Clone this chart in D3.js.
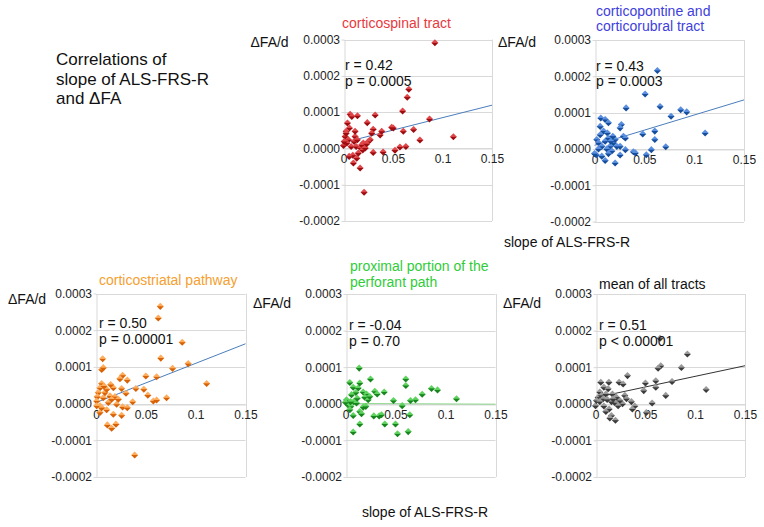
<!DOCTYPE html>
<html>
<head>
<meta charset="utf-8">
<script src="https://cdn.jsdelivr.net/npm/d3@7"></script>
<style>
  html, body { margin: 0; padding: 0; background: #fff; }
  svg { display: block; font-family: "Liberation Sans", Arial, sans-serif; }
</style>
</head>
<body>
<div id="viz_container"></div>
<script>
// points: [slope of ALS-FRS-R, dFA/d]
const corticospinal = [
  [0.0923, 0.000291], [0.066, 0.000163], [0.0644, 0.000141], [0.0597, 0.000103], [0.0869, 0.000081],
  [0.111, 0.000032], [0.0708, 0.000052], [0.0772, 0.000023], [0.0604, 0.000047], [0.0503, 0.000056],
  [0.0487, 0.000058], [0.063, 0.000005], [0.057, 0.000004], [0.052, -0.000005], [0.040, -0.00001],
  [0.032, 0.000092], [0.030, 0.000053], [0.0285, 0.000042], [0.037, 0.000037], [0.0386, 0.000047],
  [0.030, -0.000011], [0.024, 0.000071], [0.027, 0.000024], [0.025, 0.000019], [0.020, 0.000015],
  [0.0208, -0.000121], [0.0168, -0.000054], [0.0141, 0.00009], [0.0067, 0.000094], [0.0084, 0.000088],
  [0.004, 0.00007], [0.006, 0.000056], [0.0027, 0.000047], [0.0017, 0.000033], [0.005, 0.000024],
  [0.0, 0.000008], [0.0034, 0.000015], [0.0077, 0.000005], [0.0117, 0.000033], [0.0128, 0.000005],
  [0.0094, -0.000019], [0.010, -0.00004], [0.0134, -0.000027], [0.015, -0.000013], [0.0174, 0.000001],
  [0.0185, 0.00001], [0.0195, -0.000004], [0.0107, 0.000019], [0.0007, 0.000019], [0.0027, 0.000042],
  [0.0057, -0.000022], [0.022, 0.000001], [0.0235, 0.000013], [0.014, 0.000024], [0.0117, 0.000047]
];
const corticopontine = [
  [0.0631, 0.000216], [0.0508, 0.000151], [0.0658, 0.000117], [0.0317, 0.000113], [0.0865, 0.000108],
  [0.0925, 0.000102], [0.0768, 0.00009], [0.111, 0.000044], [0.0605, 0.000049], [0.0484, 0.000041],
  [0.0605, 0.000026], [0.0715, 0.000006], [0.057, -0.000002], [0.052, -0.000016], [0.039, -0.000008],
  [0.041, -0.000011], [0.027, 0.000067], [0.0257, 0.000058], [0.029, 0.000035], [0.031, 0.00003],
  [0.0257, 0.000007], [0.031, -0.000002], [0.0257, -0.000017], [0.0207, -0.000039], [0.0107, -0.000032],
  [0.0073, -0.00002], [0.0017, -0.000016], [0.0063, 0.000085], [0.0107, 0.000081], [0.014, 0.000072],
  [0.0057, 0.000062], [0.009, 0.000049], [0.013, 0.000044], [0.0023, 0.000026], [0.004, 0.000017],
  [0.0073, 0.000007], [0.0107, 0.000021], [0.014, 0.00003], [0.0157, 0.000007], [0.0174, -0.000006],
  [0.019, 0.000017], [0.0207, 0.000026], [0.0224, 0.000007], [0.0124, 0.0], [0.014, -0.000013],
  [0.004, 0.0], [0.0057, 0.000039], [0.0164, 0.000021], [0.0184, 0.000035], [0.0, -0.000013]
];
const corticostriatal = [
  [0.0645, 0.000265], [0.0625, 0.000233], [0.0865, 0.000167], [0.065, 0.000124], [0.0925, 0.000109],
  [0.0768, 0.000096], [0.0608, 0.000073], [0.050, 0.000075], [0.111, 0.000055], [0.048, 0.000039],
  [0.052, 0.000023], [0.0575, 0.000007], [0.0608, 0.00001], [0.0708, 0.000016], [0.040, 0.000041],
  [0.0368, 0.000005], [0.0388, -0.00014], [0.0314, 0.000064], [0.0267, 0.000077], [0.024, 0.000068],
  [0.0257, 0.000041], [0.0301, 0.000028], [0.0267, -0.000009], [0.0257, -0.000032], [0.0314, -0.000011],
  [0.020, -0.000056], [0.0157, -0.000067], [0.0114, -0.000058], [0.0174, -0.000029], [0.0207, -0.000002],
  [0.019, 0.000019], [0.0174, 0.000043], [0.0147, 0.000052], [0.0067, 0.000122], [0.0057, 0.000093],
  [0.0073, 0.000098], [0.0057, 0.000055], [0.004, 0.000043], [0.0023, 0.00003], [0.0013, 0.000019],
  [0.0007, 0.000007], [0.0007, -0.000006], [0.004, -0.000006], [0.0073, 0.000016], [0.009, 0.00003],
  [0.0107, 0.000039], [0.008, 0.000048], [0.0124, 0.000003], [0.0107, -0.000017], [0.014, 0.000021],
  [0.0157, 0.000012], [0.0224, 0.000012], [0.004, -0.000024], [0.0057, -0.000011]
];
const perforant = [
  [0.0137, 0.0000975], [0.025, 0.000068], [0.0603, 0.000068], [0.0603, 0.00005], [0.086, 0.000042],
  [0.092, 0.000038], [0.111, 0.000014], [0.0767, 0.000026], [0.070, 0.000011], [0.065, 0.000009],
  [0.048, 0.000009], [0.0567, -0.000005], [0.0643, -0.00003], [0.050, -0.000055], [0.052, -0.000082],
  [0.0627, -0.000076], [0.0393, -0.000055], [0.0387, 0.000032], [0.0293, 0.000034], [0.0317, 0.000027],
  [0.0283, -0.000033], [0.0337, -0.000033], [0.036, -0.00003], [0.0143, -0.000055], [0.0077, -0.000077],
  [0.0043, 0.000058], [0.0077, 0.000045], [0.0127, 0.000043], [0.0143, 0.000057], [0.0103, 0.000031],
  [0.006, 0.000025], [0.0177, 0.000032], [0.021, 0.000027], [0.0193, 0.000018], [0.001, 0.000011],
  [0.0027, -0.000003], [0.0053, -0.000007], [0.0083, 0.000006], [0.011, 0.000002], [0.0077, -0.000032],
  [0.0143, -0.000021], [0.016, -0.000027], [0.0177, -0.000009], [0.0203, -0.000007], [0.0227, 0.000011],
  [0.0243, 0.00002], [0.0043, -0.000016], [0.0117, 0.000015], [0.0, 0.000004], [0.005, 0.000006]
];
const allTracts = [
  [0.0648, 0.000179], [0.0922, 0.000136], [0.0655, 0.000104], [0.0628, 0.000097], [0.0862, 0.000099],
  [0.0321, 0.000077], [0.0768, 0.000061], [0.0605, 0.000063], [0.0605, 0.000045], [0.0501, 0.000057],
  [0.0484, 0.000036], [0.111, 0.000039], [0.0705, 0.000023], [0.0568, 0.000002], [0.051, -0.000024],
  [0.036, 0.000006], [0.0394, -0.000006], [0.037, -0.000014], [0.0237, 0.000059], [0.0277, 0.000054],
  [0.0294, 0.000023], [0.0311, 0.000014], [0.0271, 0.0], [0.0244, 0.000009], [0.021, 0.000018],
  [0.0194, 0.000003], [0.016, 0.000006], [0.020, -0.000045], [0.016, -0.000032], [0.0137, -0.000014],
  [0.0104, -0.000021], [0.0084, -0.000006], [0.0, -0.000005], [0.0053, 0.000059], [0.0084, 0.000045],
  [0.0134, 0.000059], [0.0127, 0.000041], [0.0043, 0.000032], [0.0027, 0.000018], [0.006, 0.000023],
  [0.0077, 0.000014], [0.0104, 0.000027], [0.0117, 0.000012], [0.001, 0.000009], [0.0043, 0.000006],
  [0.017, 0.000027], [0.0177, 0.000014], [0.0227, -0.000005], [0.0144, -0.000039]
];

const panelTitles = [
  ["corticospinal tract"],
  ["corticopontine and", "corticorubral tract"],
  ["corticostriatal pathway"],
  ["proximal portion of the", "perforant path"],
  ["mean of all tracts"]
];
const rLabels = ["r = 0.42", "r = 0.43", "r = 0.50", "r = -0.04", "r = 0.51"];
const pLabels = ["p = 0.0005", "p = 0.0003", "p = 0.00001", "p = 0.70", "p < 0.00001"];
// trend line value at slope 0 and at slope 0.15
const trendEnds = [
  [0.000016, 0.000119],
  [0.00001, 0.000135],
  [0.000003, 0.000163],
  [0.000001, -0.000001],
  [0.000017, 0.000104]
];
const xTicks = [0, 0.05, 0.1, 0.15];
const yTicks = [-0.0002, -0.0001, 0, 0.0001, 0.0002, 0.0003];

// layout + colours of the five panels
const panels = [
  { data: corticospinal, box: [343.5, 492, 39.5, 221], titleX: -1.5, titleY: [-12], labelX: -93, labelY: 7.5, statX: 1.5, statY: [30, 46.5],
    titleColor: "#e8393d", dot: ["#e0474a", "#9e0c10"], line: "#4a7ebb" },
  { data: corticopontine, box: [594.5, 744, 40, 221.5], titleX: 1.5, titleY: [-24, -9], labelX: -96.5, labelY: 7, statX: 1.5, statY: [31, 46],
    titleColor: "#4040dd", dot: ["#5a8fe0", "#164e9e"], line: "#4a7ebb" },
  { data: corticostriatal, box: [96, 245.5, 293.5, 477], titleX: 3, titleY: [-8.5], labelX: -88, labelY: 10, statX: 3, statY: [34.5, 50],
    titleColor: "#f5a030", dot: ["#ffad5c", "#d86206"], line: "#4a7ebb" },
  { data: perforant, box: [345.5, 495.5, 294, 477], titleX: 4.5, titleY: [-23, -7], labelX: -92.5, labelY: 13.5, statX: 3.5, statY: [36, 52],
    titleColor: "#2fcc3a", dot: ["#5fd35f", "#17861d"], line: "#8fd88f" },
  { data: allTracts, box: [595.5, 745, 294, 477], titleX: 3.5, titleY: [-5], labelX: -92.5, labelY: 13.5, statX: 3.5, statY: [36, 52],
    titleColor: "#111", dot: ["#9a9a9a", "#3c3c3c"], line: "#333" }
];

const svg = d3.select("#viz_container")
  .append("svg")
    .attr("width", 764)
    .attr("height", 527);

const defs = svg.append("defs");

// main title
const mainTitle = ["Correlations of", "slope of ALS-FRS-R", "and \u0394FA"];
svg.append("g")
  .selectAll("text")
  .data(mainTitle)
  .join("text")
    .attr("x", 56)
    .attr("y", (d, i) => 65 + i * 19.5)
    .attr("font-size", 17)
    .attr("fill", "#111")
    .text(d => d);

// x axis captions
[[567, 247], [425, 517]].forEach(p => {
  svg.append("text")
    .attr("x", p[0])
    .attr("y", p[1])
    .attr("text-anchor", "middle")
    .attr("font-size", 14)
    .attr("fill", "#111")
    .text("slope of ALS-FRS-R");
});

panels.forEach((p, i) => {
  const [left, right, top, bottom] = p.box;
  const x = d3.scaleLinear().domain([0, 0.15]).range([left, right]);
  const y = d3.scaleLinear().domain([-0.0002, 0.0003]).range([bottom, top]);
  const g = svg.append("g");

  // gradient for the bevelled diamonds
  const grad = defs.append("linearGradient")
    .attr("id", "dot" + i)
    .attr("x1", "0%").attr("y1", "0%")
    .attr("x2", "100%").attr("y2", "100%");
  grad.append("stop").attr("offset", "0%").attr("stop-color", p.dot[0]);
  grad.append("stop").attr("offset", "45%").attr("stop-color", p.dot[0]);
  grad.append("stop").attr("offset", "55%").attr("stop-color", p.dot[1]);
  grad.append("stop").attr("offset", "100%").attr("stop-color", p.dot[1]);

  // horizontal grid
  g.append("g")
    .selectAll("line")
    .data(yTicks)
    .join("line")
      .attr("x1", left)
      .attr("x2", right)
      .attr("y1", d => Math.round(y(d)) + 0.5)
      .attr("y2", d => Math.round(y(d)) + 0.5)
      .attr("stroke", "#d9d9d9");

  // right border of the plot area
  g.append("line")
    .attr("x1", Math.round(right) + 0.5)
    .attr("x2", Math.round(right) + 0.5)
    .attr("y1", y(0.0003))
    .attr("y2", y(-0.0002))
    .attr("stroke", "#d9d9d9");

  // y axis
  g.append("g")
    .attr("transform", `translate(${Math.round(left) + 0.5},0)`)
    .call(d3.axisLeft(y).tickValues(yTicks).tickSize(3).tickSizeOuter(0).tickPadding(1.5)
      .tickFormat(d => d.toFixed(4)))
    .call(a => a.selectAll("line, path").attr("stroke", "#d9d9d9"))
    .call(a => a.selectAll("text").attr("font-size", 12).attr("fill", "#222")
      .attr("font-family", "'Liberation Sans', Arial, sans-serif"));

  // x axis on the zero line
  g.append("g")
    .attr("transform", `translate(0,${Math.round(y(0)) + 0.5})`)
    .call(d3.axisBottom(x).tickValues(xTicks).tickSize(0).tickSizeOuter(0).tickPadding(6)
      .tickFormat(d => String(d)))
    .call(a => a.select(".domain").attr("stroke", "#d9d9d9"))
    .call(a => a.selectAll("text").attr("font-size", 12).attr("fill", "#222")
      .attr("font-family", "'Liberation Sans', Arial, sans-serif"));

  // trend line
  g.append("line")
    .attr("x1", x(0))
    .attr("x2", x(0.15))
    .attr("y1", y(trendEnds[i][0]))
    .attr("y2", y(trendEnds[i][1]))
    .attr("stroke", p.line)
    .attr("stroke-width", 1);

  // points
  g.append("g")
    .selectAll("path")
    .data(p.data)
    .join("path")
      .attr("d", d3.symbol(d3.symbolSquare).size(25))
      .attr("transform", d => `translate(${x(d[0])},${y(d[1])}) rotate(45)`)
      .attr("fill", `url(#dot${i})`);

  // panel title
  g.append("g")
    .selectAll("text")
    .data(panelTitles[i])
    .join("text")
      .attr("x", left + p.titleX)
      .attr("y", (d, k) => top + p.titleY[k])
      .attr("font-size", 14)
      .attr("fill", p.titleColor)
      .text(d => d);

  // y caption
  g.append("text")
    .attr("x", left + p.labelX)
    .attr("y", top + p.labelY)
    .attr("font-size", 14)
    .attr("fill", "#111")
    .text("\u0394FA/d");

  // r and p
  g.append("g")
    .selectAll("text")
    .data([rLabels[i], pLabels[i]])
    .join("text")
      .attr("x", left + p.statX)
      .attr("y", (d, k) => top + p.statY[k])
      .attr("font-size", 14)
      .attr("fill", "#111")
      .text(d => d);
});
</script>
</body>
</html>
